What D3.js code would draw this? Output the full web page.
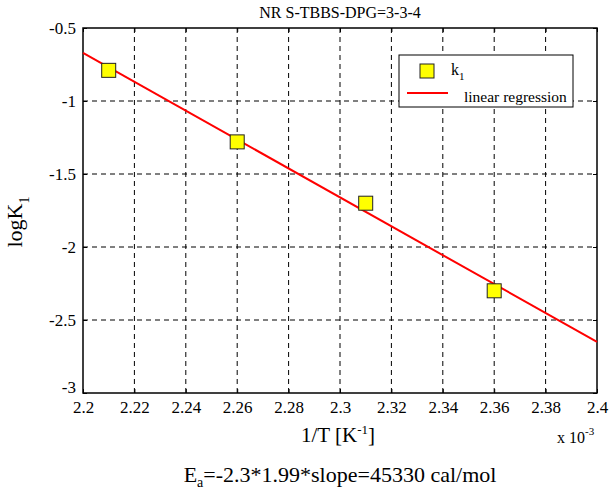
<!DOCTYPE html>
<html><head><meta charset="utf-8">
<script src="https://cdn.jsdelivr.net/npm/d3@7"></script>
<style>body{margin:0;background:#fff}svg{display:block}svg text{font-family:"Times New Roman",Times,"Liberation Serif","DejaVu Serif",serif !important;fill:#000}</style>
</head><body><svg id="c" width="610" height="490"></svg>
<script>
const xTicks = [2.2,2.22,2.24,2.26,2.28,2.3,2.32,2.34,2.36,2.38,2.4];
const yTicks = [-3,-2.5,-2,-1.5,-1,-0.5];
const pointX = [2.21,2.26,2.31,2.36];
const pointY = [-0.79,-1.28,-1.70,-2.30];
const fitX = [2.2,2.4];
const fitY = [-0.67,-2.65];

const svg = d3.select("#c");
const L=83,R=597,T=28,B=393;
const x = d3.scaleLinear().domain([2.2,2.4]).range([L,R]);
const y = d3.scaleLinear().domain([-3,-0.5]).range([B,T]);

// grid
const g = svg.append("g");
xTicks.slice(1,-1).forEach(t=>g.append("line").attr("x1",x(t)).attr("x2",x(t)).attr("y1",T).attr("y2",B)
  .attr("stroke","#000").attr("stroke-width",1).attr("stroke-dasharray","5,4"));
yTicks.slice(1,-1).forEach(t=>g.append("line").attr("x1",L).attr("x2",R).attr("y1",y(t)).attr("y2",y(t))
  .attr("stroke","#000").attr("stroke-width",1).attr("stroke-dasharray","5,4"));

// axes
const xa = svg.append("g").attr("transform",`translate(0,${B})`).call(d3.axisBottom(x).tickValues(xTicks).tickSize(-4).tickFormat(d=>d3.format("")(+d.toFixed(2))));
const xt = svg.append("g").attr("transform",`translate(0,${T})`).call(d3.axisTop(x).tickValues(xTicks).tickSize(-4).tickFormat(""));
const ya = svg.append("g").attr("transform",`translate(${L},0)`).call(d3.axisLeft(y).tickValues(yTicks).tickSize(-4).tickPadding(7).tickFormat(d=>(+d.toFixed(1))+""));
const yr = svg.append("g").attr("transform",`translate(${R},0)`).call(d3.axisRight(y).tickValues(yTicks).tickSize(-4).tickFormat(""));
[xa,xt,ya,yr].forEach(a=>{a.attr("font-family",null);a.select(".domain").remove();a.selectAll("line").attr("stroke","#000");a.selectAll("text").style("font-size","17px").attr("fill","#000");});
xa.selectAll("text").attr("y",20).attr("dy",0);
ya.selectAll(".tick").filter(d=>d===-3).select("text").attr("dy","-0.05em");
svg.append("rect").attr("x",L).attr("y",T).attr("width",R-L).attr("height",B-T).attr("fill","none").attr("stroke","#000").attr("stroke-width",1.5);

// fit line
const line = d3.line().x(d=>x(d[0])).y(d=>y(d[1]));
svg.append("path").datum(fitX.map((v,i)=>[v,fitY[i]])).attr("d",line).attr("stroke","#ff0000").attr("stroke-width",2).attr("fill","none");

// points
svg.selectAll("rect.pt").data(pointX.map((v,i)=>[v,pointY[i]])).join("rect").attr("class","pt")
 .attr("x",d=>x(d[0])-7).attr("y",d=>y(d[1])-7).attr("width",14).attr("height",14)
 .attr("fill","#ffff00").attr("stroke","#222").attr("stroke-width",1);

// legend
svg.append("rect").attr("x",399).attr("y",55).attr("width",174).attr("height",52).attr("fill","#fff").attr("stroke","#000").attr("stroke-width",1);
svg.append("rect").attr("x",420).attr("y",64).attr("width",14).attr("height",14).attr("fill","#ffff00").attr("stroke","#222");
const k = svg.append("text").attr("x",451).attr("y",75).style("font-size","16px");
k.append("tspan").text("k");
k.append("tspan").attr("dy","5").style("font-size","11px").text("1");
svg.append("line").attr("x1",407).attr("x2",448).attr("y1",93).attr("y2",93).attr("stroke","#ff0000").attr("stroke-width",2);
svg.append("text").attr("x",464).attr("y",102).style("font-size","15.5px").text("linear regression");

// title
svg.append("text").attr("x",340).attr("y",18).attr("text-anchor","middle").style("font-size","16px").text("NR S-TBBS-DPG=3-3-4");

// x label
const xl = svg.append("text").attr("x",338).attr("y",442).attr("text-anchor","middle").style("font-size","21px");
xl.append("tspan").text("1/T [K");
xl.append("tspan").attr("dy","-8").style("font-size","13px").text("-1");
xl.append("tspan").attr("dy","8").text("]");
const xm = svg.append("text").attr("x",557).attr("y",443).style("font-size","16px");
xm.append("tspan").text("x 10");
xm.append("tspan").attr("dy","-8").style("font-size","11px").text("-3");

// y label
const yl = svg.append("text").attr("transform","translate(22,222) rotate(-90)").attr("text-anchor","middle").style("font-size","22px");
yl.append("tspan").text("logK");
yl.append("tspan").attr("dy","7").style("font-size","14px").text("1");

// bottom formula
const bf = svg.append("text").attr("x",340).attr("y",482).attr("text-anchor","middle").style("font-size","22px");
bf.append("tspan").text("E");
bf.append("tspan").attr("dy","5").style("font-size","14px").text("a");
bf.append("tspan").attr("dy","-5").text("=-2.3*1.99*slope=45330 cal/mol");
</script></body></html>
